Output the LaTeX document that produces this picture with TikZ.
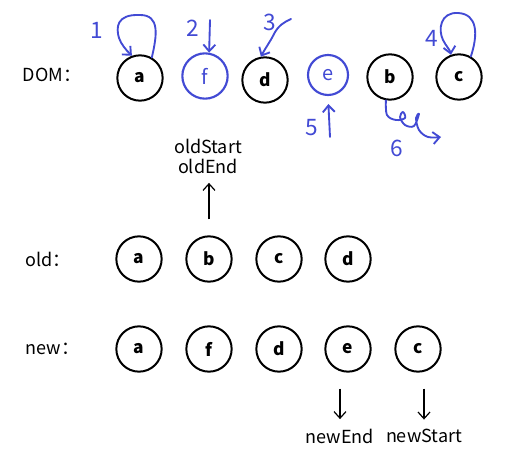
\documentclass[tikz,border=0pt]{standalone}
\usepackage{fontspec}
\setmainfont{Noto Sans CJK SC}
\usetikzlibrary{arrows.meta, positioning}
\definecolor{penblue}{RGB}{66,74,212}

\begin{document}
\begin{tikzpicture}[
    x=0.75pt, y=-0.75pt,
    font=\fontsize{13.5pt}{16pt}\selectfont,
    main node/.style={circle, draw=black, line width=1.5pt, minimum size=34pt, inner sep=0pt, font=\fontsize{13pt}{16pt}\selectfont\bfseries},
    pen node/.style={circle, draw=penblue, text=penblue, line width=1.6pt, minimum size=34pt, inner sep=0pt, font=\fontsize{15pt}{18pt}\selectfont},
    row label/.style={anchor=west},
    ptr/.style={-{Straight Barb[length=5pt, width=9pt]}, line width=0.9pt},
    pen/.style={draw=penblue, line width=1.4pt, line cap=round, line join=round, -{Straight Barb[length=5pt, width=9pt]}},
    pen num/.style={text=penblue, font=\fontsize{17pt}{20pt}\selectfont}
]
    \useasboundingbox (0,0) rectangle (531,466);

    % DOM row
    \node[row label] (domL) at (18,75) {DOM：};
    \node[main node] (Da) at (140,78) {a};
    \node[pen node] (Df) at (205,76) {f};
    \node[main node] (Dd) at (265,80) {d};
    \node[pen node, minimum size=30pt] (De) at (328,75) {e};
    \node[main node] (Db) at (390,77) {b};
    \node[main node] (Dc) at (459,77) {c};

    % old row
    \node[row label] (oldL) at (21,259) {old：};
    \node[main node] (Oa) at (139,259) {a};
    \node[main node] (Ob) at (209,259) {b};
    \node[main node] (Oc) at (279,259) {c};
    \node[main node] (Od) at (348,259) {d};

    % new row
    \node[row label] (newL) at (21,349) {new：};
    \node[main node] (Na) at (139,349) {a};
    \node[main node] (Nf) at (209,349) {f};
    \node[main node] (Nd) at (279,349) {d};
    \node[main node] (Ne) at (348,349) {e};
    \node[main node] (Nc) at (418,349) {c};

    % pointers
    \node[align=center, inner sep=1pt] (oldPtr) at (208,156) {oldStart\\[-1pt]oldEnd};
    \node[inner sep=1pt] (newEnd) at (340,436) {newEnd};
    \node[inner sep=1pt] (newStart) at (424,436) {newStart};
    \draw[ptr, shorten <=12pt, shorten >=6pt] (Ob.north) -- (Ob.north |- oldPtr.south);
    \draw[ptr, shorten <=12pt, shorten >=6pt] (newEnd |- Ne.south) -- (newEnd.north);
    \draw[ptr, shorten <=12pt, shorten >=6pt] (newStart |- Nc.south) -- (newStart.north);

    % pen marks
    \node[pen num] (n1) at (97,30) {1};
    \node[pen num] (n2) at (193,28) {2};
    \node[pen num] (n3) at (270,22) {3};
    \node[pen num] (n4) at (432,38) {4};
    \node[pen num] (n5) at (312,128) {5};
    \node[pen num] (n6) at (397,148) {6};
    \coordinate (s2) at (210,20);
    \coordinate (s3) at (291,19);
    \coordinate (s5) at (330,137);

    \draw[pen] (Da.60) .. controls (157,35) and (160,15) .. (140,15)
        .. controls (116,14) and (116,28) .. (119,38)
        .. controls (121,44) and (126,50) .. (Da.110);
    \draw[pen] (s2) -- (Df.80);
    \draw[pen] (s3) .. controls (284,22) and (278,26) .. (274,34)
        .. controls (270,42) and (266,47) .. (Dd.100);
    \draw[pen] (Dc.60) .. controls (478,35) and (478,14) .. (458,13)
        .. controls (440,12) and (438,30) .. (443,40)
        .. controls (446,46) and (450,50) .. (Dc.110);
    \draw[pen, shorten >=6pt] (s5) -- (De.south);
    \draw[pen] plot[smooth, tension=0.6] coordinates {(Db.260) (387,115) (396,120) (405,118) (403,112) (400,117) (405,125) (414,126) (419,114) (416,118) (419,130) (428,137) (441,137)};
\end{tikzpicture}
\end{document}
